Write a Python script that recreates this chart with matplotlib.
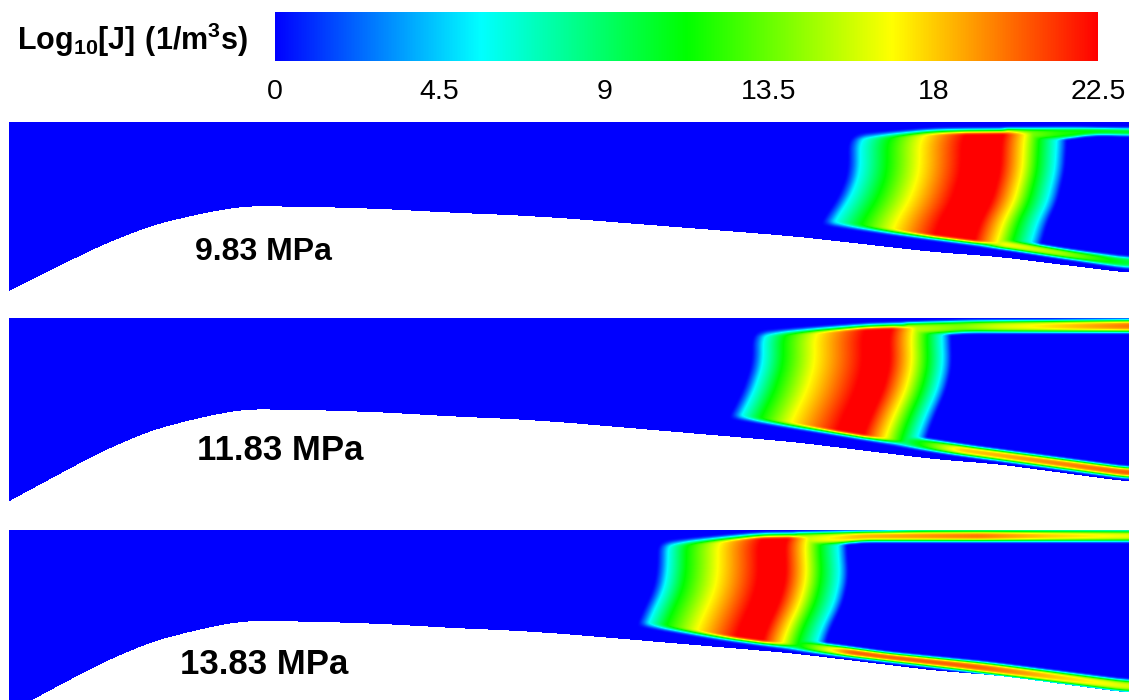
import numpy as np
import matplotlib
matplotlib.use('Agg')
import matplotlib.pyplot as plt
from matplotlib.colors import LinearSegmentedColormap

plt.rcParams['font.family'] = ['Liberation Sans', 'DejaVu Sans']
plt.rcParams['mathtext.fontset'] = 'custom'
plt.rcParams['mathtext.bf'] = 'Liberation Sans:bold'
plt.rcParams['mathtext.rm'] = 'Liberation Sans:bold'
plt.rcParams['mathtext.default'] = 'bf'

# scale of the colour bar
J_MAX = 22.5
J_TICKS = [0, 4.5, 9, 13.5, 18, 22.5]
J_TICK_LABELS = ['0', '4.5', '9', '13.5', '18', '22.5']

# labels, one per pressure
labels = ['9.83 MPa', '11.83 MPa', '13.83 MPa']
label_x = [195, 197, 180]
label_y = [252, 450, 665]
label_size = [23, 25, 25]

# nozzle wall (image pixels)
wall_x = [9, 51, 102, 153, 204, 245, 319, 383, 459, 510, 561, 612, 663, 714, 765, 800, 933, 1000, 1129]
wall_y = [291, 270, 245, 225, 213, 206, 207, 209, 213, 215, 218, 222, 226, 230, 234, 237, 252, 257, 273]
panel_top = [122, 318, 530]
panel_bottom = [292, 501, 700]
wall_stretch = [1.0, 1.085, 1.08]

# leading and trailing side of the nucleation front
front_y = [[126, 133, 140, 170, 187, 203, 220, 245],
           [320, 326, 335, 362, 379, 395, 412, 440],
           [530, 535, 542, 558, 575, 592, 608, 627, 660]]
front_x = [[880, 866, 860, 860, 855, 847, 835, 825],
           [790, 772, 763, 763, 758, 752, 743, 730],
           [700, 678, 668, 668, 667, 663, 655, 647, 635]]
back_y = [[130, 140, 170, 203, 220, 240, 260],
          [320, 340, 362, 379, 395, 412, 435, 460],
          [530, 545, 575, 592, 608, 625, 642, 670]]
back_x = [[1057, 1057, 1055, 1047, 1038, 1032, 1026],
          [942, 942, 943, 940, 935, 927, 918, 912],
          [838, 838, 840, 837, 832, 823, 817, 810]]

# log10 J through the front, position as fraction of the front width
profile_u = [[-0.06, -0.03, 0, 0.137, 0.305, 0.518, 0.72, 0.832, 0.909, 1, 1.03, 1.05],
             [-0.06, -0.03, 0, 0.111, 0.289, 0.556, 0.706, 0.828, 0.917, 1, 1.03, 1.05],
             [-0.06, -0.03, 0, 0.106, 0.294, 0.53, 0.688, 0.806, 0.894, 1, 1.03, 1.05]]
profile_j = [0, 2.5, 5.6, 11.2, 16.9, 22.5, 22.5, 16.9, 11.2, 5.6, 2.5, 0]

# outer limits of the wet region
top_env_x = [[800, 865, 933, 1067, 1129],
             [700, 767, 867, 967, 1129],
             [600, 670, 760, 920, 1129]]
top_env_y = [[135, 133, 128, 127, 128],
             [332, 330, 323, 320, 319],
             [543, 540, 532, 530, 530]]
low_env_x = [[800, 835, 900, 1000, 1129],
             [700, 737, 833, 933, 1129],
             [600, 647, 720, 820, 953, 1129]]
low_env_y = [[222, 227, 236, 249, 269],
             [414, 420, 435, 452, 479],
             [620, 628, 640, 654, 670, 693]]

# inner edges of the thin bands along centreline and wall
top_in_x = [[1020, 1063, 1093, 1129],
            [900, 943, 967, 1129],
            [800, 840, 860, 1129]]
top_in_y = [[142, 140, 135, 136],
            [337, 335, 333, 333],
            [547, 545, 542, 542]]
low_in_x = [[1000, 1032, 1067, 1129],
            [880, 918, 967, 1129],
            [780, 817, 887, 987, 1129]]
low_in_y = [[238, 243, 249, 257],
            [430, 437, 445, 467],
            [635, 642, 652, 662, 680]]

# peak log10 J in the bands
top_peak_x = [[1000, 1030, 1060, 1129],
              [900, 960, 1000, 1129],
              [790, 860, 980, 1050, 1129]]
top_peak_j = [[19, 14, 12, 10.5],
              [16, 14, 16, 20],
              [15, 18.5, 20, 18, 16.5]]
low_peak_x = [[960, 1000, 1060, 1129],
              [850, 960, 1050, 1129],
              [740, 850, 980, 1060, 1129]]
low_peak_j = [[0, 17, 15, 10],
              [0, 18, 19.5, 20.5],
              [0, 20.5, 20.5, 18, 16]]

jet_colors = ['#0000ff', '#00ffff', '#00ff00', '#ffff00', '#ff0000']
cmap = LinearSegmentedColormap.from_list('nozzle', jet_colors, N=512)
cmap.set_bad('white')


def smooth(values, size=9):
    pad = size // 2
    padded = np.pad(values, pad, mode='edge')
    return np.convolve(padded, np.ones(size) / size, mode='valid')


def blur(field, size=3, passes=2):
    for _ in range(passes):
        field = np.apply_along_axis(smooth, 0, field, size)
        field = np.apply_along_axis(smooth, 1, field, size)
    return field


def band(y, outer, inner, peak):
    # value across a thin band lying between two edges
    t = (y - outer) / (inner - outer)
    shape = np.clip(1 - np.abs(2 * t - 1) ** 3.5, 0, 1)
    return peak * shape


def build_field(i):
    xs = np.arange(9, 1129) + 0.5
    ys = np.arange(panel_top[i], panel_bottom[i]) + 0.5
    xx, yy = np.meshgrid(xs, ys)

    front = smooth(np.interp(ys, front_y[i], front_x[i]), 21)
    back = smooth(np.interp(ys, back_y[i], back_x[i]), 21)
    u = (xx - front[:, None]) / (back - front)[:, None]
    field = np.interp(u, profile_u[i], profile_j)

    top_env = smooth(np.interp(xs, top_env_x[i], top_env_y[i]), 31)
    low_env = smooth(np.interp(xs, low_env_x[i], low_env_y[i]), 31)
    field = field * np.clip((yy - top_env) / 6, 0, 1) * np.clip((low_env - yy) / 5, 0, 1)

    top_in = smooth(np.interp(xs, top_in_x[i], top_in_y[i]), 31)
    low_in = smooth(np.interp(xs, low_in_x[i], low_in_y[i]), 31)
    top_peak = smooth(np.interp(xs, top_peak_x[i], top_peak_j[i], left=0), 15)
    low_peak = smooth(np.interp(xs, low_peak_x[i], low_peak_j[i], left=0), 15)
    field = np.maximum(field, band(yy, top_env, top_in, top_peak))
    field = np.maximum(field, band(yy, low_in, low_env, low_peak))
    field = blur(field)

    wall = panel_top[i] + wall_stretch[i] * (smooth(np.interp(xs, wall_x, wall_y), 41) - panel_top[0])
    wall[:20] = (panel_top[i] + wall_stretch[i] * (np.interp(xs, wall_x, wall_y) - panel_top[0]))[:20]
    return np.ma.masked_where(yy > np.round(wall), field)


fig = plt.figure(figsize=(11.29, 7), dpi=100)
ax = fig.add_axes([0, 0, 1, 1])
for i in range(3):
    im = ax.imshow(build_field(i), cmap=cmap, vmin=0, vmax=J_MAX, interpolation='nearest',
                   extent=(9, 1129, panel_bottom[i], panel_top[i]), aspect='auto')
    ax.text(label_x[i], label_y[i], labels[i], fontsize=label_size[i], fontweight='bold',
            va='center', ha='left')
ax.set_xlim(0, 1129)
ax.set_ylim(700, 0)
ax.axis('off')

# colour bar on top
cax = fig.add_axes([275 / 1129, 1 - 61 / 700, 823 / 1129, 49 / 700])
cb = fig.colorbar(im, cax=cax, orientation='horizontal', ticks=J_TICKS)
cb.ax.set_xticklabels(J_TICK_LABELS, fontsize=20.5)
cb.ax.tick_params(length=0, pad=13)
cb.outline.set_visible(False)

ax.text(17, 40, r'$\mathbf{Log_{10}[J]\ (1/m^{3}s)}$', fontsize=22, va='center', ha='left')

fig.savefig('out.png', dpi=100)
plt.close(fig)
